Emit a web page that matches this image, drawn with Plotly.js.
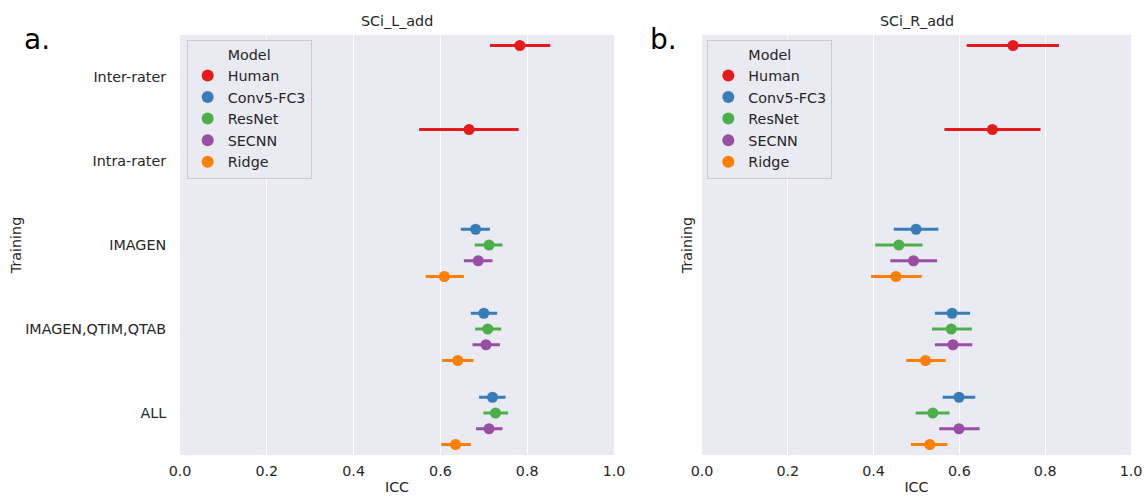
<!DOCTYPE html>
<html>
<head>
<meta charset="utf-8">
<script src="https://cdn.plot.ly/plotly-3.0.1.min.js"></script>
<style>html,body{margin:0;padding:0;background:#fff;}#chart{width:1144px;height:497px;}</style>
</head>
<body>
<div id="chart"></div>
<script>
// ---- data ----
const categories = ['Inter-rater', 'Intra-rater', 'IMAGEN', 'IMAGEN,QTIM,QTAB', 'ALL'];
const models = ['Human', 'Conv5-FC3', 'ResNet', 'SECNN', 'Ridge'];
const xTicks = [0.0, 0.2, 0.4, 0.6, 0.8, 1.0];
const xTickLabels = ['0.0', '0.2', '0.4', '0.6', '0.8', '1.0'];

// Left panel: SCi_L_add (point estimate, lower CI, upper CI) per model across categories
const L_Human  = [0.783, 0.666, null, null, null];
const L_Human_lo = [0.714, 0.551, null, null, null];
const L_Human_hi = [0.853, 0.780, null, null, null];
const L_Conv   = [null, null, 0.681, 0.700, 0.720];
const L_Conv_lo = [null, null, 0.647, 0.670, 0.689];
const L_Conv_hi = [null, null, 0.714, 0.731, 0.750];
const L_ResNet = [null, null, 0.712, 0.709, 0.727];
const L_ResNet_lo = [null, null, 0.679, 0.680, 0.699];
const L_ResNet_hi = [null, null, 0.743, 0.740, 0.756];
const L_SECNN  = [null, null, 0.687, 0.705, 0.712];
const L_SECNN_lo = [null, null, 0.654, 0.674, 0.682];
const L_SECNN_hi = [null, null, 0.720, 0.737, 0.743];
const L_Ridge  = [null, null, 0.609, 0.640, 0.635];
const L_Ridge_lo = [null, null, 0.566, 0.604, 0.602];
const L_Ridge_hi = [null, null, 0.654, 0.676, 0.670];

// Right panel: SCi_R_add
const R_Human  = [0.725, 0.677, null, null, null];
const R_Human_lo = [0.617, 0.565, null, null, null];
const R_Human_hi = [0.832, 0.789, null, null, null];
const R_Conv   = [null, null, 0.499, 0.583, 0.599];
const R_Conv_lo = [null, null, 0.447, 0.543, 0.561];
const R_Conv_hi = [null, null, 0.551, 0.625, 0.637];
const R_ResNet = [null, null, 0.459, 0.581, 0.538];
const R_ResNet_lo = [null, null, 0.404, 0.536, 0.498];
const R_ResNet_hi = [null, null, 0.514, 0.629, 0.577];
const R_SECNN  = [null, null, 0.493, 0.585, 0.599];
const R_SECNN_lo = [null, null, 0.439, 0.543, 0.553];
const R_SECNN_hi = [null, null, 0.548, 0.630, 0.647];
const R_Ridge  = [null, null, 0.452, 0.521, 0.531];
const R_Ridge_lo = [null, null, 0.394, 0.476, 0.487];
const R_Ridge_hi = [null, null, 0.512, 0.568, 0.572];

// ---- styles ----
const colors = ['#e41a1c', '#377eb8', '#4daf4a', '#984ea3', '#ff7f00'];
const dodge = [-0.375, -0.1875, 0, 0.1875, 0.375];
const FONT = 'DejaVu Sans, Verdana, sans-serif';
const TXT = '#262626';
const FS = 14.3;

const leftSets = [[L_Human, L_Human_lo, L_Human_hi], [L_Conv, L_Conv_lo, L_Conv_hi],
  [L_ResNet, L_ResNet_lo, L_ResNet_hi], [L_SECNN, L_SECNN_lo, L_SECNN_hi], [L_Ridge, L_Ridge_lo, L_Ridge_hi]];
const rightSets = [[R_Human, R_Human_lo, R_Human_hi], [R_Conv, R_Conv_lo, R_Conv_hi],
  [R_ResNet, R_ResNet_lo, R_ResNet_hi], [R_SECNN, R_SECNN_lo, R_SECNN_hi], [R_Ridge, R_Ridge_lo, R_Ridge_hi]];

function makeTraces(sets, xa, ya, legendName) {
  return sets.map((s, m) => {
    const [v, lo, hi] = s;
    const x = [], y = [], plus = [], minus = [];
    v.forEach((val, c) => {
      if (val === null) return;
      x.push(val);
      y.push(c + dodge[m]);
      plus.push(hi[c] - val);
      minus.push(val - lo[c]);
    });
    return {
      type: 'scatter', mode: 'markers', name: models[m],
      x: x, y: y, xaxis: xa, yaxis: ya, legend: legendName,
      marker: {color: colors[m], size: 11},
      error_x: {type: 'data', array: plus, arrayminus: minus, symmetric: false,
        color: colors[m], thickness: 3, width: 0},
      hoverinfo: 'x+name'
    };
  });
}

const traces = makeTraces(leftSets, 'x', 'y', 'legend').concat(makeTraces(rightSets, 'x2', 'y2', 'legend2'));

const xaxisBase = {
  range: [0, 1], tickvals: xTicks, ticktext: xTickLabels,
  showgrid: true, gridcolor: '#ffffff', gridwidth: 1, zeroline: false, showline: false,
  ticks: 'outside', ticklen: 3, tickcolor: 'rgba(0,0,0,0)',
  ticklabeloverflow: 'allow',
  tickfont: {family: FONT, size: FS, color: TXT},
  title: {text: 'ICC', font: {family: FONT, size: FS, color: TXT}, standoff: 3}
};
const yaxisBase = {
  range: [4.5, -0.5], tickvals: [0, 1, 2, 3, 4], ticktext: categories,
  showgrid: false, zeroline: false, showline: false,
  ticks: 'outside', ticklen: 10, tickcolor: 'rgba(0,0,0,0)',
  tickfont: {family: FONT, size: FS, color: TXT},
  title: {text: 'Training', font: {family: FONT, size: FS, color: TXT}, standoff: 0}
};
const legendBase = {
  bgcolor: 'rgba(234,234,242,0.85)', bordercolor: '#cccccc', borderwidth: 1,
  font: {family: FONT, size: FS, color: TXT},
  title: {text: 'Model', side: 'top center', font: {family: FONT, size: FS, color: TXT}},
  xanchor: 'left', yanchor: 'top', itemsizing: 'constant', tracegroupgap: 0
};

const layout = {
  width: 1144, height: 497,
  margin: {l: 180, r: 13, t: 35, b: 42},
  paper_bgcolor: '#ffffff', plot_bgcolor: '#eaeaf2',
  font: {family: FONT, color: TXT},
  showlegend: true,
  xaxis: Object.assign({}, xaxisBase, {domain: [0, 0.4564], anchor: 'y'}),
  yaxis: Object.assign({}, yaxisBase, {anchor: 'x'}),
  xaxis2: Object.assign({}, xaxisBase, {domain: [0.5489, 1], anchor: 'y2'}),
  yaxis2: Object.assign({}, yaxisBase, {anchor: 'x2', showticklabels: false, ticks: '', ticklen: 0,
    title: {text: 'Training', font: {family: FONT, size: FS, color: TXT}, standoff: 4}}),
  legend: Object.assign({}, legendBase, {x: 0.007, y: 0.988}),
  legend2: Object.assign({}, legendBase, {x: 0.5545, y: 0.988}),
  annotations: [
    {text: 'SCi_L_add', xref: 'paper', yref: 'paper', x: 0.2282, y: 1, xanchor: 'center', yanchor: 'bottom', yshift: 4,
      showarrow: false, font: {family: FONT, size: FS, color: TXT}},
    {text: 'SCi_R_add', xref: 'paper', yref: 'paper', x: 0.7745, y: 1, xanchor: 'center', yanchor: 'bottom', yshift: 4,
      showarrow: false, font: {family: FONT, size: FS, color: TXT}},
    {text: 'a.', xref: 'paper', yref: 'paper', x: -0.166, y: 0.99, xanchor: 'left', yanchor: 'middle',
      showarrow: false, font: {family: FONT, size: 28, color: '#000000'}},
    {text: 'b.', xref: 'paper', yref: 'paper', x: 0.492, y: 0.99, xanchor: 'left', yanchor: 'middle',
      showarrow: false, font: {family: FONT, size: 28, color: '#000000'}}
  ]
};

Plotly.newPlot('chart', traces, layout, {displayModeBar: false, staticPlot: true});
</script>
</body>
</html>
